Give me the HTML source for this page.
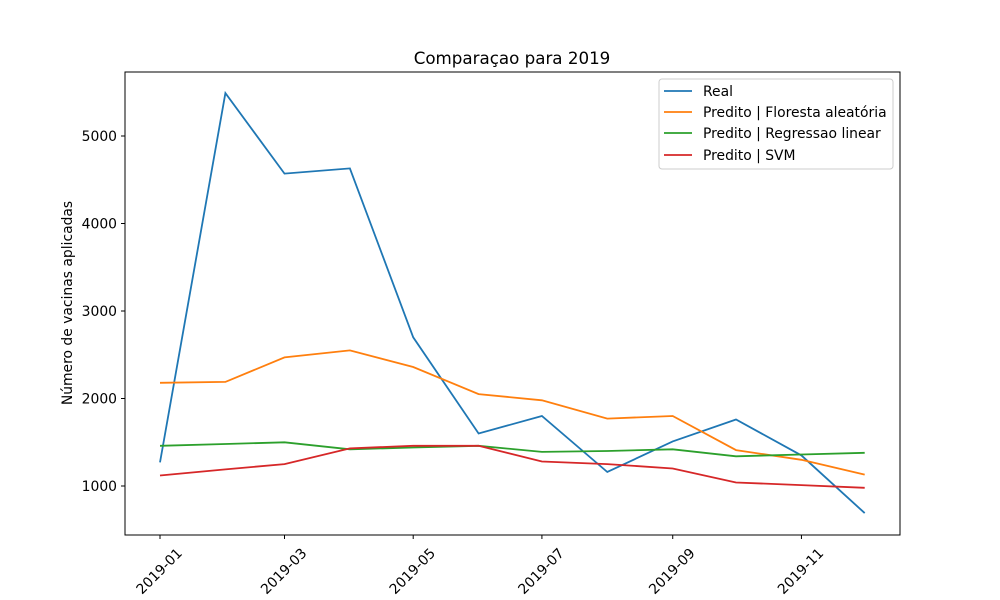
<!DOCTYPE html>
<html><head><meta charset="utf-8"><style>
body{margin:0;background:#fff;}
svg{display:block;font-family:"DejaVu Sans","Liberation Sans",sans-serif;}
</style></head><body>
<svg id="chart" width="1000" height="600"></svg>
<script>
const months=["2019-01-01","2019-02-01","2019-03-01","2019-04-01","2019-05-01","2019-06-01","2019-07-01","2019-08-01","2019-09-01","2019-10-01","2019-11-01","2019-12-01"];
const realValues=[1270,5490,4570,4630,2700,1600,1800,1160,1510,1760,1350,690];
const forestValues=[2180,2190,2470,2550,2360,2050,1980,1770,1800,1410,1300,1130];
const linearValues=[1460,1480,1500,1420,1440,1460,1390,1400,1420,1340,1360,1380];
const svmValues=[1120,1190,1250,1430,1460,1460,1280,1250,1200,1040,1010,980];
const yTicks=[1000,2000,3000,4000,5000];
const xTicks=["2019-01","2019-03","2019-05","2019-07","2019-09","2019-11"];
const seriesNames=["Real","Predito | Floresta aleatória","Predito | Regressao linear","Predito | SVM"];
const colors=["#1f77b4","#ff7f0e","#2ca02c","#d62728"];

const NS="http://www.w3.org/2000/svg";
const svg=document.getElementById('chart');
const L=125,R=900,T=72,B=535;
const FS=13.9;
const t0=Date.UTC(2019,0,1);
function dayOf(s){const p=s.split('-');return (Date.UTC(+p[0],+p[1]-1,+(p[2]||1))-t0)/86400000;}
function xs(s){return 160+dayOf(s)*2.11;}
function ys(v){return 486-(v-1000)*0.0875;}
function mk(tag,attrs,parent){const e=document.createElementNS(NS,tag);for(const k in attrs)e.setAttribute(k,attrs[k]);(parent||svg).appendChild(e);return e;}

const title=mk('text',{x:512,y:64,'text-anchor':'middle','font-size':16.7});
title.textContent="Comparaçao para 2019";



const frame=mk('rect',{x:L,y:T,width:R-L,height:B-T,fill:'none',stroke:'#000','stroke-width':1});



yTicks.forEach(v=>{
  const y=ys(v);
  const tk=mk('line',{x1:L-4,x2:L,y1:y,y2:y,stroke:'#000'});
  
  
  const tx=mk('text',{x:L-8,y:y+5,'text-anchor':'end','font-size':FS});
  tx.textContent=v;
  
  
});
xTicks.forEach(s=>{
  const x=xs(s+"-01");
  const tk=mk('line',{x1:x,x2:x,y1:B,y2:B+4,stroke:'#000'});
  
  
  const ex=x+23, ey=B+19;
  const tx=mk('text',{x:ex,y:ey,'text-anchor':'end','font-size':FS,transform:`rotate(-45 ${ex} ${ey})`});
  tx.textContent=s;
  
  
});
const yl=mk('text',{x:72,y:303,'text-anchor':'middle','font-size':FS,transform:'rotate(-90 72 303)'});
yl.textContent="Número de vacinas aplicadas";



const all=[realValues,forestValues,linearValues,svmValues];
all.forEach((vals,i)=>{
  const pts=vals.map((v,j)=>xs(months[j]).toFixed(1)+","+ys(v).toFixed(1)).join(" ");
  const pl=mk('polyline',{points:pts,fill:'none',stroke:colors[i],'stroke-width':1.8});
  
  
});

const lg=mk('g',{});


mk('rect',{x:659,y:79,width:234,height:90,fill:'#fff','fill-opacity':0.8,stroke:'#ccc',rx:3},lg);
const ly=[91,112,133,155];
seriesNames.forEach((n,i)=>{
  const g=mk('g',{},lg);
  
  
  mk('line',{x1:664,x2:692,y1:ly[i],y2:ly[i],stroke:colors[i],'stroke-width':1.8},g);
  const t=mk('text',{x:703,y:ly[i]+5,'font-size':FS},g);
  t.textContent=n;
});
</script>
</body></html>
